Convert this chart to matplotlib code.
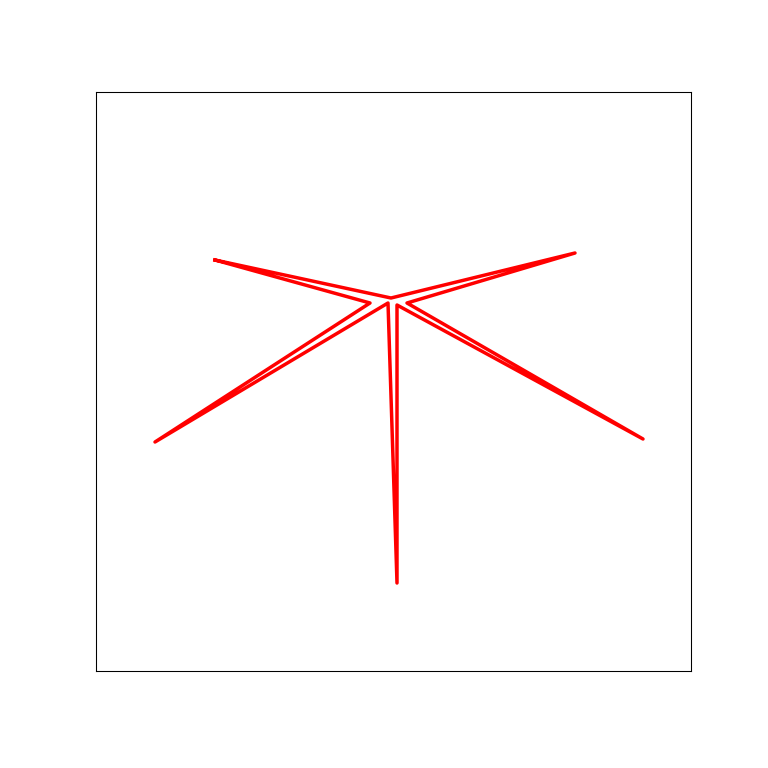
import matplotlib
matplotlib.use("Agg")
import matplotlib.pyplot as plt

# star outline, tips and inner vertices in order (closed)
star_x = [215, 391, 575, 407, 643, 397, 397, 388, 155, 370, 215]
star_y = [260, 298, 253, 303, 439, 305, 583, 303, 442, 303, 260]

fig = plt.figure(figsize=(8, 8), dpi=96)
ax = fig.add_axes([96 / 768, 1 - 671 / 768, 595 / 768, 579 / 768])
ax.plot(star_x, star_y, color="#ff0000", linewidth=2.6)
ax.set_xlim(96, 691)
ax.set_ylim(671, 92)
ax.set_xticks([])
ax.set_yticks([])
for s in ax.spines.values():
    s.set_linewidth(0.8)

fig.savefig("out.png", dpi=96)
